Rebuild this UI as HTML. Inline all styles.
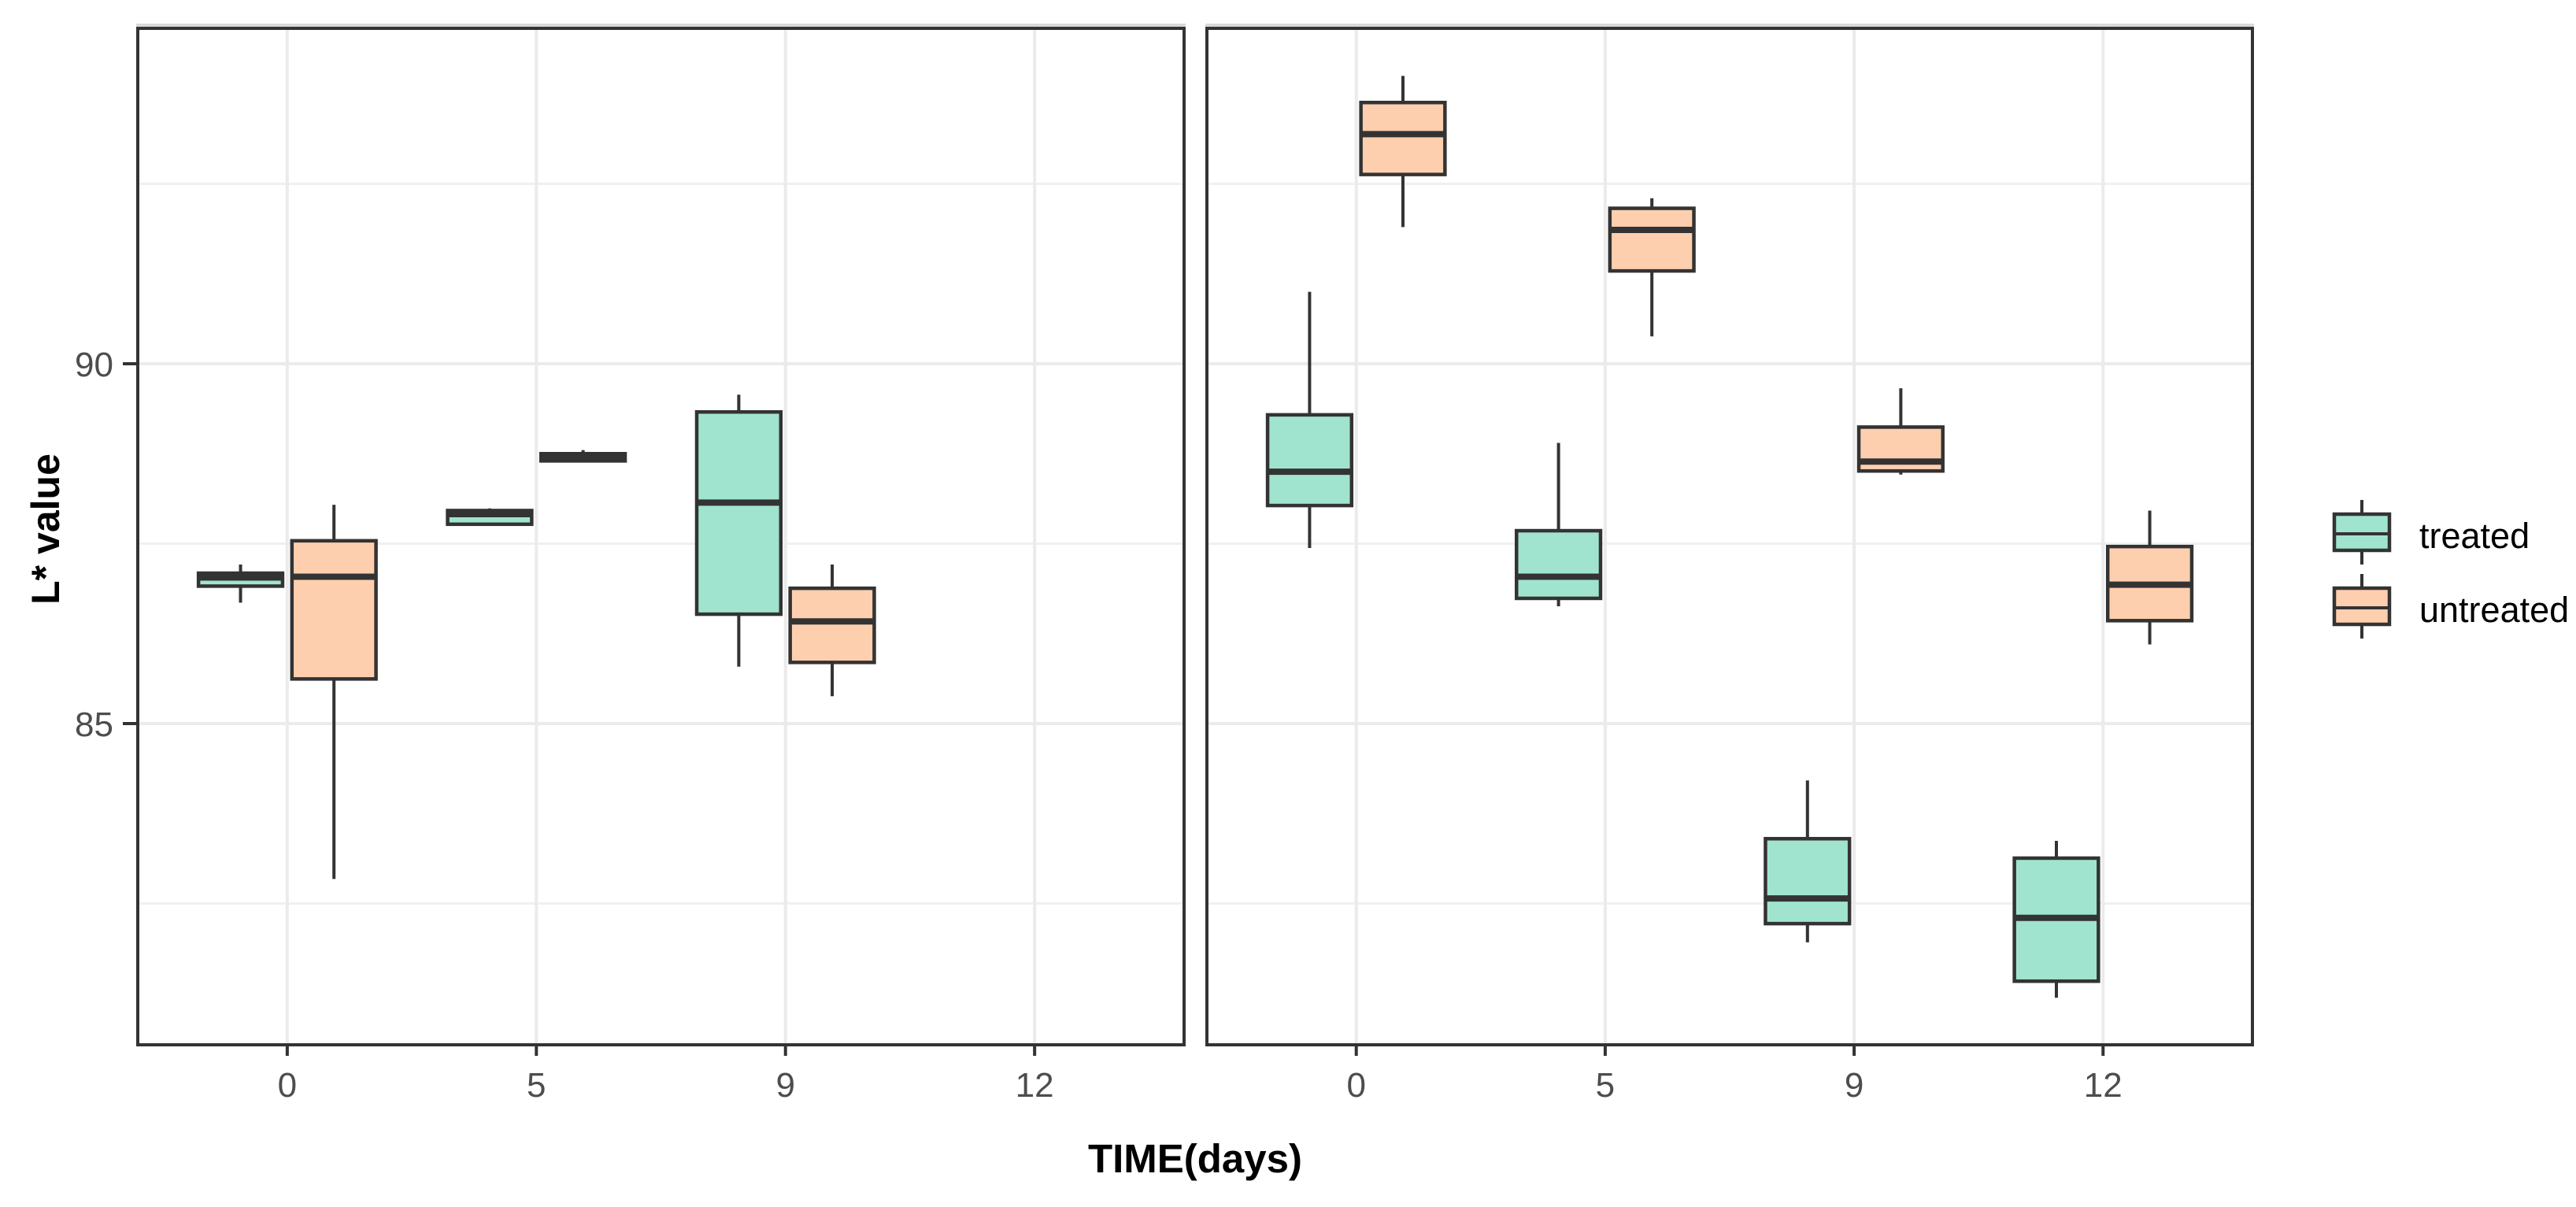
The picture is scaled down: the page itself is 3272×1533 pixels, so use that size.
<!DOCTYPE html>
<html><head><meta charset="utf-8">
<style>
html,body{margin:0;padding:0;background:#fff;}
svg{display:block;font-family:"Liberation Sans",Arial,sans-serif;}
</style></head>
<body>
<svg id="chart" width="3272" height="1533" viewBox="0 0 3272 1533" xmlns="http://www.w3.org/2000/svg">
<g id="root"></g>
</svg>
<script>
const categories = ["0","5","9","12"];
const groups = ["treated","untreated"];
const yTicks = [85, 90];
const yMinor = [82.5, 87.5, 92.5];
// panel 1 : [whiskerLow, q1, median, q3, whiskerHigh] per category (null = no data)
const p1Treated   = [[86.68,86.91,87.03,87.09,87.21],[87.77,87.77,87.91,87.96,87.99],[85.79,86.52,88.07,89.33,89.57],null];
const p1Untreated = [[82.84,85.62,87.04,87.54,88.04],[88.65,88.65,88.71,88.75,88.80],[85.38,85.85,86.42,86.88,87.21],null];
// panel 2
const p2Treated   = [[87.44,88.03,88.50,89.29,91.00],[86.63,86.74,87.04,87.68,88.90],[81.96,82.22,82.57,83.40,84.21],[81.19,81.42,82.30,83.13,83.37]];
const p2Untreated = [[91.90,92.63,93.19,93.63,94.00],[90.38,91.29,91.86,92.16,92.30],[88.46,88.51,88.64,89.12,89.66],[86.10,86.43,86.93,87.46,87.96]];

const NS="http://www.w3.org/2000/svg";
const root=document.getElementById('root');
function mk(tag,attrs,parent){const e=document.createElementNS(NS,tag);for(const k in attrs)e.setAttribute(k,attrs[k]);(parent||root).appendChild(e);return e;}

const plotTop=36, plotBottom=1327;
function yScale(v){return 462-(v-90)*91.4;}
const fills={treated:"#a0e4cf",untreated:"#fecfae"};
const panels=[{x0:175,x1:1504,data:[p1Treated,p1Untreated],name:'panel-1'},{x0:1533,x1:2861,data:[p2Treated,p2Untreated],name:'panel-2'}];

panels.forEach((p)=>{
  const g=mk('g',{});
  
  
  const unit=(p.x1-p.x0)/(categories.length+0.2);
  const xScale=i=>p.x0+(i+0.6)*unit;
  yMinor.forEach(v=>{const l=mk('line',{x1:p.x0,x2:p.x1,y1:yScale(v),y2:yScale(v),stroke:'#f0f0f0','stroke-width':3},g);
    
    });
  yTicks.forEach(v=>{const l=mk('line',{x1:p.x0,x2:p.x1,y1:yScale(v),y2:yScale(v),stroke:'#ebebeb','stroke-width':4},g);
    
    });
  categories.forEach((c,i)=>{const l=mk('line',{x1:xScale(i),x2:xScale(i),y1:plotTop,y2:plotBottom,stroke:'#ebebeb','stroke-width':4},g);
    
    
    const t=mk('line',{x1:xScale(i),x2:xScale(i),y1:plotBottom,y2:plotBottom+14,stroke:'#333','stroke-width':4},g);
    
    
    const tx=mk('text',{x:xScale(i),y:plotBottom+66,'font-size':44,fill:'#4d4d4d','text-anchor':'middle'},g);
    tx.textContent=c;
    
    
  });
  p.data.forEach((series,gi)=>{
    const off=(gi===0?-0.1875:0.1875)*unit, bw=0.3375*unit;
    series.forEach((d,i)=>{
      if(!d)return;
      const cx=xScale(i)+off;
      const bg=mk('g',{},g);
      
      
      mk('line',{x1:cx,x2:cx,y1:yScale(d[4]),y2:yScale(d[3]),stroke:'#333','stroke-width':4},bg);
      mk('line',{x1:cx,x2:cx,y1:yScale(d[1]),y2:yScale(d[0]),stroke:'#333','stroke-width':4},bg);
      mk('rect',{x:cx-bw/2,y:yScale(d[3]),width:bw,height:Math.max(0.5,yScale(d[1])-yScale(d[3])),fill:fills[groups[gi]],stroke:'#333','stroke-width':4.5},bg);
      mk('line',{x1:cx-bw/2,x2:cx+bw/2,y1:yScale(d[2]),y2:yScale(d[2]),stroke:'#333','stroke-width':8},bg);
    });
  });
  mk('line',{x1:p.x0-2,x2:p.x1+2,y1:32,y2:32,stroke:'#d9d9d9','stroke-width':4},g);
  const b=mk('rect',{x:p.x0,y:plotTop,width:p.x1-p.x0,height:plotBottom-plotTop,fill:'none',stroke:'#333','stroke-width':4},g);
  
  
});
yTicks.forEach(v=>{
  const t=mk('line',{x1:156,x2:175,y1:yScale(v),y2:yScale(v),stroke:'#333','stroke-width':4});
  
  
  const tx=mk('text',{x:144,y:yScale(v)+16,'font-size':44,fill:'#4d4d4d','text-anchor':'end'});
  tx.textContent=String(v);
  
  
});
const yt=mk('text',{x:0,y:0,'font-size':50,'font-weight':'bold',fill:'#000','text-anchor':'middle',transform:'translate(75,672) rotate(-90)'});
yt.textContent='L* value';


const xt=mk('text',{x:1518,y:1489,'font-size':51,'font-weight':'bold',fill:'#000','text-anchor':'middle'});
xt.textContent='TIME(days)';


const lg=mk('g',{});


groups.forEach((gname,i)=>{
  const dy=i*94;
  const e=mk('g',{},lg);
  
  
  mk('line',{x1:3000,x2:3000,y1:635+dy,y2:717+dy,stroke:'#333','stroke-width':4},e);
  mk('rect',{x:2965,y:653+dy,width:70,height:46,fill:fills[gname],stroke:'#333','stroke-width':4.5},e);
  mk('line',{x1:2965,x2:3035,y1:678+dy,y2:678+dy,stroke:'#333','stroke-width':4},e);
  const t=mk('text',{x:3073,y:696+dy,'font-size':45,fill:'#000'},e);
  t.textContent=gname;
});
</script>
</body></html>
